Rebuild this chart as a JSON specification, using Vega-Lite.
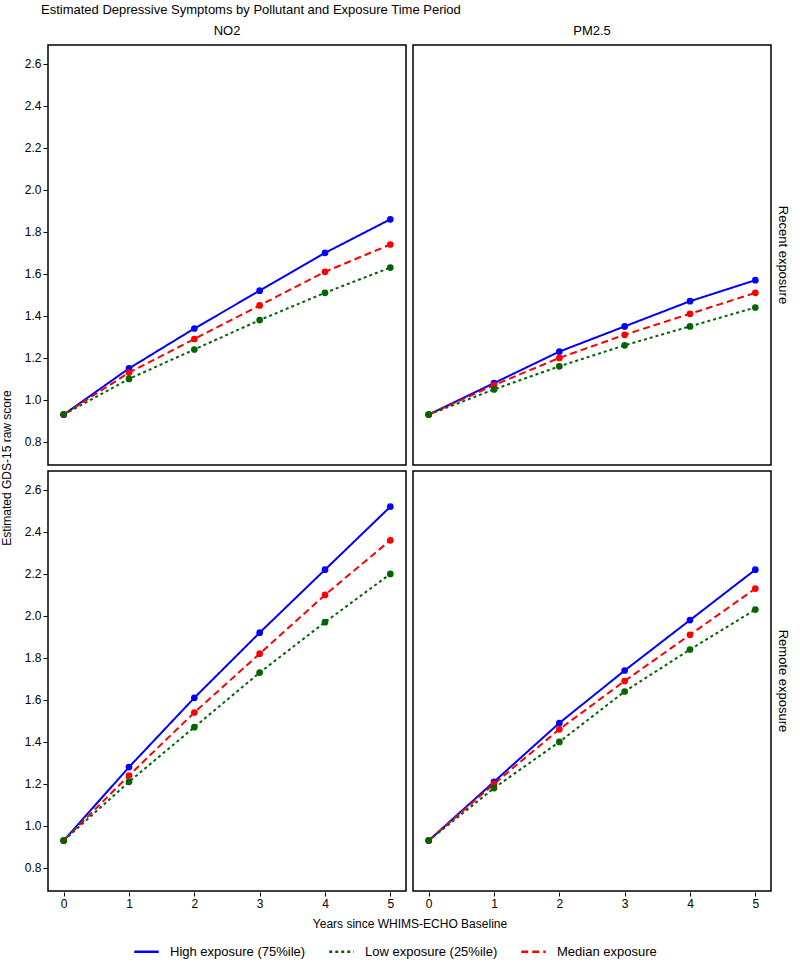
{
  "$schema": "https://vega.github.io/schema/vega-lite/v6.json",
  "padding": {"left": 0, "top": 4, "right": 0, "bottom": 0},
  "title": {"text": "Estimated Depressive Symptoms by Pollutant and Exposure Time Period", "anchor": "start", "fontSize": 13, "fontWeight": "normal", "font": "Liberation Sans", "color": "black", "offset": 8, "dx": 40},
  "config": {
    "font": "Liberation Sans",
    "view": {"stroke": "black", "strokeWidth": 1.5},
    "axis": {"grid": false, "domain": false, "tickColor": "black", "labelColor": "black", "labelFontSize": 12, "tickSize": 4, "labelPadding": 2},
    "legend": {"layout": {"bottom": {"anchor": "middle"}}}
  },
  "data": {"values": [
    {"pollutant":"NO2","period":"Recent exposure","exposure":"High exposure (75%ile)","year":0,"score":0.93},
    {"pollutant":"NO2","period":"Recent exposure","exposure":"High exposure (75%ile)","year":1,"score":1.15},
    {"pollutant":"NO2","period":"Recent exposure","exposure":"High exposure (75%ile)","year":2,"score":1.34},
    {"pollutant":"NO2","period":"Recent exposure","exposure":"High exposure (75%ile)","year":3,"score":1.52},
    {"pollutant":"NO2","period":"Recent exposure","exposure":"High exposure (75%ile)","year":4,"score":1.70},
    {"pollutant":"NO2","period":"Recent exposure","exposure":"High exposure (75%ile)","year":5,"score":1.86},
    {"pollutant":"NO2","period":"Recent exposure","exposure":"Median exposure","year":0,"score":0.93},
    {"pollutant":"NO2","period":"Recent exposure","exposure":"Median exposure","year":1,"score":1.13},
    {"pollutant":"NO2","period":"Recent exposure","exposure":"Median exposure","year":2,"score":1.29},
    {"pollutant":"NO2","period":"Recent exposure","exposure":"Median exposure","year":3,"score":1.45},
    {"pollutant":"NO2","period":"Recent exposure","exposure":"Median exposure","year":4,"score":1.61},
    {"pollutant":"NO2","period":"Recent exposure","exposure":"Median exposure","year":5,"score":1.74},
    {"pollutant":"NO2","period":"Recent exposure","exposure":"Low exposure (25%ile)","year":0,"score":0.93},
    {"pollutant":"NO2","period":"Recent exposure","exposure":"Low exposure (25%ile)","year":1,"score":1.10},
    {"pollutant":"NO2","period":"Recent exposure","exposure":"Low exposure (25%ile)","year":2,"score":1.24},
    {"pollutant":"NO2","period":"Recent exposure","exposure":"Low exposure (25%ile)","year":3,"score":1.38},
    {"pollutant":"NO2","period":"Recent exposure","exposure":"Low exposure (25%ile)","year":4,"score":1.51},
    {"pollutant":"NO2","period":"Recent exposure","exposure":"Low exposure (25%ile)","year":5,"score":1.63},
    {"pollutant":"PM2.5","period":"Recent exposure","exposure":"High exposure (75%ile)","year":0,"score":0.93},
    {"pollutant":"PM2.5","period":"Recent exposure","exposure":"High exposure (75%ile)","year":1,"score":1.08},
    {"pollutant":"PM2.5","period":"Recent exposure","exposure":"High exposure (75%ile)","year":2,"score":1.23},
    {"pollutant":"PM2.5","period":"Recent exposure","exposure":"High exposure (75%ile)","year":3,"score":1.35},
    {"pollutant":"PM2.5","period":"Recent exposure","exposure":"High exposure (75%ile)","year":4,"score":1.47},
    {"pollutant":"PM2.5","period":"Recent exposure","exposure":"High exposure (75%ile)","year":5,"score":1.57},
    {"pollutant":"PM2.5","period":"Recent exposure","exposure":"Median exposure","year":0,"score":0.93},
    {"pollutant":"PM2.5","period":"Recent exposure","exposure":"Median exposure","year":1,"score":1.07},
    {"pollutant":"PM2.5","period":"Recent exposure","exposure":"Median exposure","year":2,"score":1.20},
    {"pollutant":"PM2.5","period":"Recent exposure","exposure":"Median exposure","year":3,"score":1.31},
    {"pollutant":"PM2.5","period":"Recent exposure","exposure":"Median exposure","year":4,"score":1.41},
    {"pollutant":"PM2.5","period":"Recent exposure","exposure":"Median exposure","year":5,"score":1.51},
    {"pollutant":"PM2.5","period":"Recent exposure","exposure":"Low exposure (25%ile)","year":0,"score":0.93},
    {"pollutant":"PM2.5","period":"Recent exposure","exposure":"Low exposure (25%ile)","year":1,"score":1.05},
    {"pollutant":"PM2.5","period":"Recent exposure","exposure":"Low exposure (25%ile)","year":2,"score":1.16},
    {"pollutant":"PM2.5","period":"Recent exposure","exposure":"Low exposure (25%ile)","year":3,"score":1.26},
    {"pollutant":"PM2.5","period":"Recent exposure","exposure":"Low exposure (25%ile)","year":4,"score":1.35},
    {"pollutant":"PM2.5","period":"Recent exposure","exposure":"Low exposure (25%ile)","year":5,"score":1.44},
    {"pollutant":"NO2","period":"Remote exposure","exposure":"High exposure (75%ile)","year":0,"score":0.93},
    {"pollutant":"NO2","period":"Remote exposure","exposure":"High exposure (75%ile)","year":1,"score":1.28},
    {"pollutant":"NO2","period":"Remote exposure","exposure":"High exposure (75%ile)","year":2,"score":1.61},
    {"pollutant":"NO2","period":"Remote exposure","exposure":"High exposure (75%ile)","year":3,"score":1.92},
    {"pollutant":"NO2","period":"Remote exposure","exposure":"High exposure (75%ile)","year":4,"score":2.22},
    {"pollutant":"NO2","period":"Remote exposure","exposure":"High exposure (75%ile)","year":5,"score":2.52},
    {"pollutant":"NO2","period":"Remote exposure","exposure":"Median exposure","year":0,"score":0.93},
    {"pollutant":"NO2","period":"Remote exposure","exposure":"Median exposure","year":1,"score":1.24},
    {"pollutant":"NO2","period":"Remote exposure","exposure":"Median exposure","year":2,"score":1.54},
    {"pollutant":"NO2","period":"Remote exposure","exposure":"Median exposure","year":3,"score":1.82},
    {"pollutant":"NO2","period":"Remote exposure","exposure":"Median exposure","year":4,"score":2.10},
    {"pollutant":"NO2","period":"Remote exposure","exposure":"Median exposure","year":5,"score":2.36},
    {"pollutant":"NO2","period":"Remote exposure","exposure":"Low exposure (25%ile)","year":0,"score":0.93},
    {"pollutant":"NO2","period":"Remote exposure","exposure":"Low exposure (25%ile)","year":1,"score":1.21},
    {"pollutant":"NO2","period":"Remote exposure","exposure":"Low exposure (25%ile)","year":2,"score":1.47},
    {"pollutant":"NO2","period":"Remote exposure","exposure":"Low exposure (25%ile)","year":3,"score":1.73},
    {"pollutant":"NO2","period":"Remote exposure","exposure":"Low exposure (25%ile)","year":4,"score":1.97},
    {"pollutant":"NO2","period":"Remote exposure","exposure":"Low exposure (25%ile)","year":5,"score":2.20},
    {"pollutant":"PM2.5","period":"Remote exposure","exposure":"High exposure (75%ile)","year":0,"score":0.93},
    {"pollutant":"PM2.5","period":"Remote exposure","exposure":"High exposure (75%ile)","year":1,"score":1.21},
    {"pollutant":"PM2.5","period":"Remote exposure","exposure":"High exposure (75%ile)","year":2,"score":1.49},
    {"pollutant":"PM2.5","period":"Remote exposure","exposure":"High exposure (75%ile)","year":3,"score":1.74},
    {"pollutant":"PM2.5","period":"Remote exposure","exposure":"High exposure (75%ile)","year":4,"score":1.98},
    {"pollutant":"PM2.5","period":"Remote exposure","exposure":"High exposure (75%ile)","year":5,"score":2.22},
    {"pollutant":"PM2.5","period":"Remote exposure","exposure":"Median exposure","year":0,"score":0.93},
    {"pollutant":"PM2.5","period":"Remote exposure","exposure":"Median exposure","year":1,"score":1.20},
    {"pollutant":"PM2.5","period":"Remote exposure","exposure":"Median exposure","year":2,"score":1.46},
    {"pollutant":"PM2.5","period":"Remote exposure","exposure":"Median exposure","year":3,"score":1.69},
    {"pollutant":"PM2.5","period":"Remote exposure","exposure":"Median exposure","year":4,"score":1.91},
    {"pollutant":"PM2.5","period":"Remote exposure","exposure":"Median exposure","year":5,"score":2.13},
    {"pollutant":"PM2.5","period":"Remote exposure","exposure":"Low exposure (25%ile)","year":0,"score":0.93},
    {"pollutant":"PM2.5","period":"Remote exposure","exposure":"Low exposure (25%ile)","year":1,"score":1.18},
    {"pollutant":"PM2.5","period":"Remote exposure","exposure":"Low exposure (25%ile)","year":2,"score":1.40},
    {"pollutant":"PM2.5","period":"Remote exposure","exposure":"Low exposure (25%ile)","year":3,"score":1.64},
    {"pollutant":"PM2.5","period":"Remote exposure","exposure":"Low exposure (25%ile)","year":4,"score":1.84},
    {"pollutant":"PM2.5","period":"Remote exposure","exposure":"Low exposure (25%ile)","year":5,"score":2.03}
  ]},
  "facet": {
    "column": {"field": "pollutant", "type": "nominal", "sort": ["NO2", "PM2.5"],
      "header": {"title": "Years since WHIMS-ECHO Baseline", "titleOrient": "bottom", "labelOrient": "top", "titleFontSize": 12, "titleFontWeight": "normal", "titleColor": "black", "labelFontSize": 13, "labelColor": "black", "labelPadding": 6, "titlePadding": 0}},
    "row": {"field": "period", "type": "nominal", "sort": ["Recent exposure", "Remote exposure"],
      "header": {"title": "Estimated GDS-15 raw score", "titleOrient": "left", "labelOrient": "right", "labelAngle": 90, "titleFontSize": 12, "titleFontWeight": "normal", "titleColor": "black", "labelFontSize": 13, "labelColor": "black", "labelPadding": 4, "titlePadding": 0}}
  },
  "spacing": {"row": 4, "column": 5},
  "spec": {
    "width": 358,
    "height": 420,
    "mark": {"type": "line", "strokeWidth": 2, "point": {"filled": true, "size": 45}},
    "encoding": {
      "x": {"field": "year", "type": "quantitative", "title": null, "scale": {"domain": [-0.24, 5.24], "nice": false, "zero": false},
        "axis": {"values": [0, 1, 2, 3, 4, 5], "format": "d"}},
      "y": {"field": "score", "type": "quantitative", "title": null, "scale": {"domain": [0.69, 2.69], "nice": false, "zero": false},
        "axis": {"values": [0.8, 1.0, 1.2, 1.4, 1.6, 1.8, 2.0, 2.2, 2.4, 2.6], "format": ".1f"}},
      "color": {"field": "exposure", "type": "nominal",
        "scale": {"domain": ["High exposure (75%ile)", "Low exposure (25%ile)", "Median exposure"], "range": ["#0000ff", "#006400", "#ff0000"]},
        "legend": {"orient": "bottom", "direction": "horizontal", "title": null, "labelFontSize": 13, "labelColor": "black", "symbolType": "stroke", "symbolStrokeWidth": 2.5, "symbolSize": 600, "columnPadding": 18, "labelOffset": 10, "offset": 8}},
      "strokeDash": {"field": "exposure", "type": "nominal",
        "scale": {"domain": ["High exposure (75%ile)", "Low exposure (25%ile)", "Median exposure"], "range": [[1, 0], [3, 3], [7, 4]]},
        "legend": {"orient": "bottom", "direction": "horizontal", "title": null}}
    }
  }
}
